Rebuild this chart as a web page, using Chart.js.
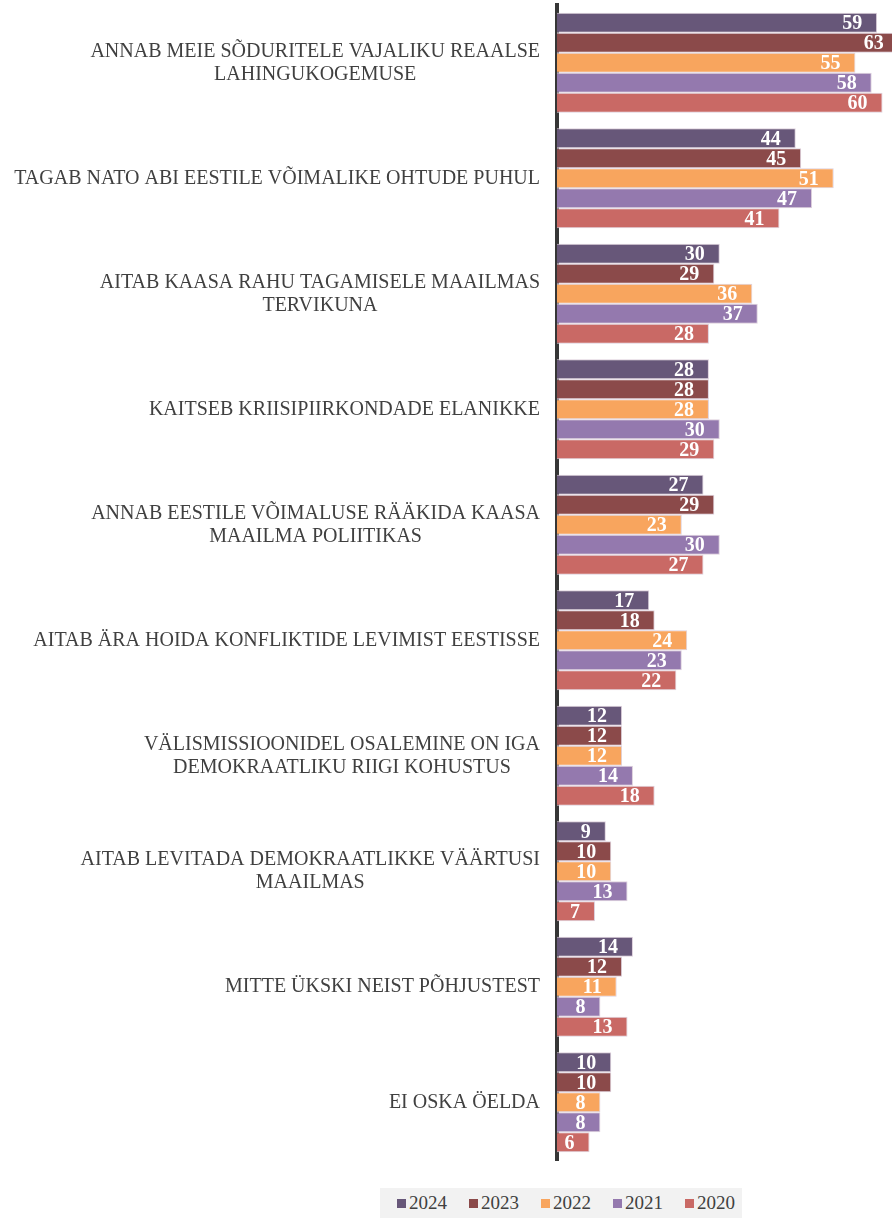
<!DOCTYPE html>
<html>
<head>
<meta charset="utf-8">
<script src="https://cdn.jsdelivr.net/npm/chart.js@4/dist/chart.umd.min.js"></script>
<style>
  html, body { margin: 0; padding: 0; background: #fff; }
  #wrap { position: relative; width: 892px; height: 1218px; }
  #legend {
    position: absolute; left: 380px; top: 1188px; width: 362px; height: 30px;
    background: #f2f2f2; display: flex; align-items: center; padding-left: 17px;
    box-sizing: border-box; font-family: "Liberation Serif", "Times New Roman", serif;
    font-size: 19px; color: #404040;
  }
  #legend .item { display: flex; align-items: center; margin-right: 22px; }
  #legend .sw { width: 9px; height: 9px; margin-right: 3px; }
</style>
</head>
<body>
<div id="wrap">
  <canvas id="c" width="892" height="1218"></canvas>
  <div id="legend"></div>
</div>
<script>
const categories = [
  ["ANNAB MEIE SÕDURITELE VAJALIKU REAALSE", "LAHINGUKOGEMUSE"],
  ["TAGAB NATO ABI EESTILE VÕIMALIKE OHTUDE PUHUL"],
  ["AITAB KAASA RAHU TAGAMISELE MAAILMAS", "TERVIKUNA"],
  ["KAITSEB KRIISIPIIRKONDADE ELANIKKE"],
  ["ANNAB EESTILE VÕIMALUSE RÄÄKIDA KAASA", "MAAILMA POLIITIKAS"],
  ["AITAB ÄRA HOIDA KONFLIKTIDE LEVIMIST EESTISSE"],
  ["VÄLISMISSIOONIDEL OSALEMINE ON IGA", "DEMOKRAATLIKU RIIGI KOHUSTUS"],
  ["AITAB LEVITADA DEMOKRAATLIKKE VÄÄRTUSI", "MAAILMAS"],
  ["MITTE ÜKSKI NEIST PÕHJUSTEST"],
  ["EI OSKA ÖELDA"]
];
const years = ["2024", "2023", "2022", "2021", "2020"];
const values2024 = [59, 44, 30, 28, 27, 17, 12, 9, 14, 10];
const values2023 = [63, 45, 29, 28, 29, 18, 12, 10, 12, 10];
const values2022 = [55, 51, 36, 28, 23, 24, 12, 10, 11, 8];
const values2021 = [58, 47, 37, 30, 30, 23, 14, 13, 8, 8];
const values2020 = [60, 41, 28, 29, 27, 22, 18, 7, 13, 6];
const colors = ["#675779", "#8b4a4a", "#f8a55e", "#9479ae", "#c96965"];

const seriesValues = [values2024, values2023, values2022, values2021, values2020];
const SERIF = '"Liberation Serif", "Times New Roman", serif';

// Category labels: each block is right-aligned next to the axis, its lines centred on each other
const categoryLabels = {
  id: 'categoryLabels',
  afterDraw(chart) {
    const ctx = chart.ctx;
    const y = chart.scales.y;
    const right = 540, lh = 23;
    ctx.save();
    ctx.font = '20px ' + SERIF;
    ctx.fillStyle = '#404040';
    ctx.textAlign = 'center';
    ctx.textBaseline = 'middle';
    categories.forEach((lines, i) => {
      const w = Math.max(...lines.map(l => ctx.measureText(l).width));
      const cx = right - w / 2;
      const cy = y.getPixelForValue(i);
      const top = cy - (lines.length - 1) * lh / 2;
      lines.forEach((l, k) => ctx.fillText(l, cx, top + k * lh));
    });
    ctx.restore();
  }
};

// Value labels inside the bar ends
const valueLabels = {
  id: 'valueLabels',
  afterDatasetsDraw(chart) {
    const ctx = chart.ctx;
    ctx.save();
    ctx.font = 'bold 20px ' + SERIF;
    ctx.fillStyle = '#ffffff';
    ctx.textAlign = 'right';
    ctx.textBaseline = 'middle';
    chart.data.datasets.forEach((ds, di) => {
      chart.getDatasetMeta(di).data.forEach((bar, i) => {
        ctx.fillText(String(ds.data[i]), bar.x - 15, bar.y + 1.5);
      });
    });
    ctx.restore();
  }
};

const chart = new Chart(document.getElementById('c'), {
  type: 'bar',
  data: {
    labels: categories.map(l => l.join(' ')),
    datasets: years.map((yr, i) => ({
      label: yr,
      data: seriesValues[i],
      backgroundColor: colors[i],
      borderColor: '#ddd0dc',
      borderWidth: 1,
      categoryPercentage: 0.867,
      barPercentage: 1.0
    }))
  },
  options: {
    indexAxis: 'y',
    responsive: false,
    animation: false,
    layout: { padding: { top: 5, bottom: 58, left: 0, right: 0 } },
    plugins: { legend: { display: false }, tooltip: { enabled: false } },
    scales: {
      x: { display: false, min: 0, max: 61.74 },
      y: {
        grid: { display: false, drawTicks: false },
        border: { display: true, color: '#363636', width: 4 },
        ticks: { display: false },
        afterFit(scale) { scale.width = 557; }
      }
    }
  },
  plugins: [categoryLabels, valueLabels]
});

const legend = document.getElementById('legend');
years.forEach((yr, i) => {
  const it = document.createElement('div');
  it.className = 'item';
  const sw = document.createElement('span');
  sw.className = 'sw';
  sw.style.background = colors[i];
  const t = document.createElement('span');
  t.textContent = yr;
  it.appendChild(sw); it.appendChild(t);
  legend.appendChild(it);
});
</script>
</body>
</html>
